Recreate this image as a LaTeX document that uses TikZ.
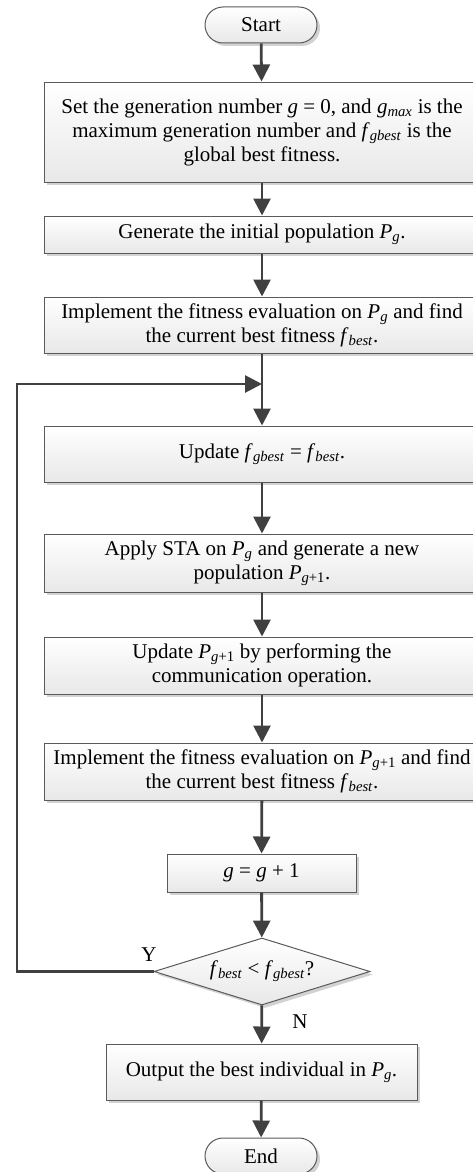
\documentclass[tikz,border=0pt]{standalone}
\usepackage{fontspec}
\setmainfont{Liberation Serif}
\usetikzlibrary{arrows.meta,shapes.geometric,shadows}
\newcommand{\vr}[1]{\textit{#1}}
\newcommand{\mysb}[1]{\textsubscript{\textit{#1}}}
\definecolor{edgec}{HTML}{5A5A5A}
\definecolor{arrc}{HTML}{404040}
\definecolor{shadc}{HTML}{D2D2D2}
\tikzset{
  box/.style={draw=edgec, line width=1pt, top color=white, bottom color=black!9,
    drop shadow={shadow xshift=3pt, shadow yshift=-3pt, fill=shadc, opacity=1},
    align=center, inner sep=2pt, font=\fontsize{21}{24}\selectfont},
  term/.style={box, rounded corners=18pt, minimum width=112pt, minimum height=36pt},
  dec/.style={draw=edgec, line width=1pt, diamond, aspect=3.2, top color=white, bottom color=black!9,
    drop shadow={shadow xshift=3pt, shadow yshift=-3pt, fill=shadc, opacity=1},
    inner sep=0pt, minimum width=216pt, minimum height=67pt, font=\fontsize{21}{24}\selectfont},
  arr/.style={draw=arrc, line width=2.8pt, -{Triangle[length=17pt,width=17pt]}},
  lab/.style={font=\fontsize{21}{24}\selectfont}
}
\begin{document}
\begin{tikzpicture}[x=1pt,y=-1pt]
\useasboundingbox (0,0) rectangle (473,1172);
\node[term] (start) at (261,25) {Start};
\node[box, minimum width=436pt, minimum height=100pt] (b1) at (262,132)
  {Set the generation number \vr{g} = 0, and \vr{g}\mysb{max} is the\\
   maximum generation number and \vr{f}\mysb{gbest} is the\\ global best fitness.};
\node[box, minimum width=436pt, minimum height=37pt] (b2) at (262,234.5)
  {Generate the initial population \vr{P}\mysb{g}.};
\node[box, minimum width=436pt, minimum height=56pt] (b3) at (262,325)
  {Implement the fitness evaluation on \vr{P}\mysb{g} and find\\
   the current best fitness \vr{f}\mysb{best}.};
\coordinate (join) at (262,384);
\node[box, minimum width=436pt, minimum height=56pt] (b4) at (262,454)
  {Update \vr{f}\mysb{gbest} = \vr{f}\mysb{best}.};
\node[box, minimum width=436pt, minimum height=58pt] (b5) at (262,563)
  {Apply STA on \vr{P}\mysb{g} and generate a new\\ population \vr{P}\textsubscript{\vr{g}+1}.};
\node[box, minimum width=436pt, minimum height=57pt] (b6) at (262,665.5)
  {Update \vr{P}\textsubscript{\vr{g}+1} by performing the\\ communication operation.};
\node[box, minimum width=436pt, minimum height=57pt] (b7) at (262,771.5)
  {Implement the fitness evaluation on \vr{P}\textsubscript{\vr{g}+1} and find\\
   the current best fitness \vr{f}\mysb{best}.};
\node[box, minimum width=189pt, minimum height=38pt] (b8) at (261.5,873)
  {\vr{g} = \vr{g} + 1};
\node[dec] (d) at (262,971.5) {\vr{f}\mysb{best} < \vr{f}\mysb{gbest}?};
\node[box, minimum width=311pt, minimum height=56pt] (b9) at (261.5,1072)
  {Output the best individual in \vr{P}\mysb{g}.};
\node[term] (end) at (261,1156) {End};
\coordinate (lc1) at (17,971.5);
\coordinate (lc2) at (17,384);
\node[lab] (ylab) at (149,955) {Y};
\node[lab] (nlab) at (300,1022) {N};
\draw[arr] (start) -- (b1);
\draw[arr] (b1) -- (b2);
\draw[arr] (b2) -- (b3);
\draw[draw=arrc, line width=2.8pt] (b3.south) -- (join);
\draw[arr] (join) -- (b4);
\draw[arr] (b4) -- (b5);
\draw[arr] (b5) -- (b6);
\draw[arr] (b6) -- (b7);
\draw[arr] (b7) -- (b8);
\draw[arr] (b8) -- (d);
\draw[arr] (d) -- (b9);
\draw[arr] (b9) -- (end);
\draw[arr] (d.west) -- (lc1) -- (lc2) -- (join);
\end{tikzpicture}
\end{document}
